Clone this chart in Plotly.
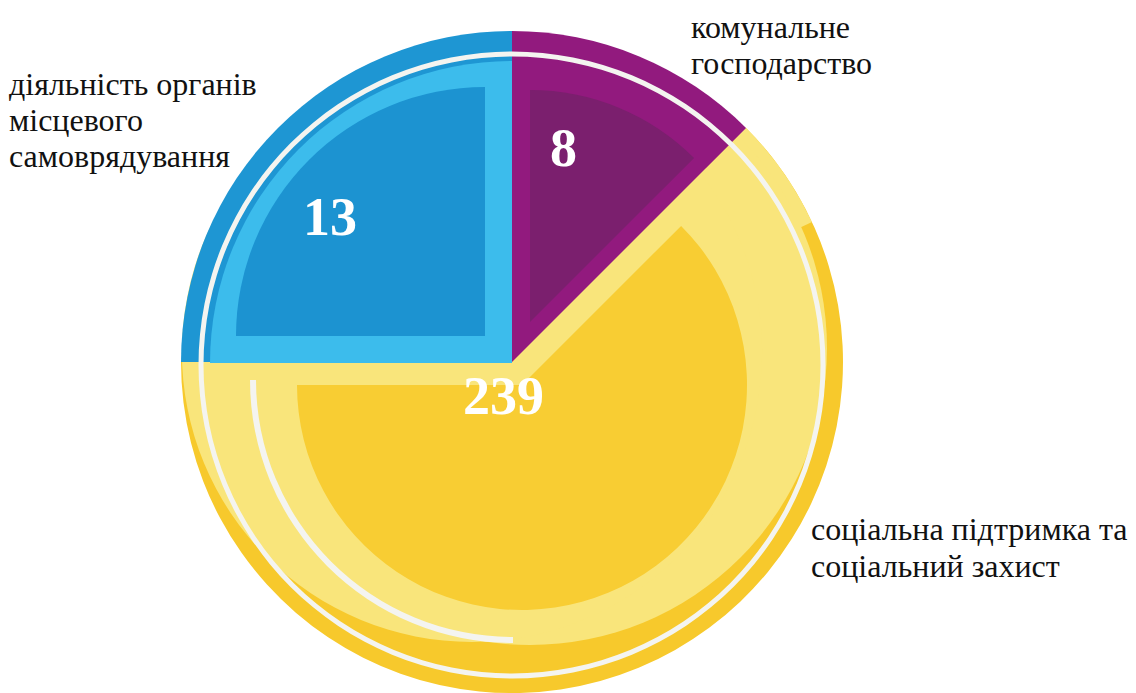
import plotly.graph_objects as go

# ---- data ----
categories = ["комунальне господарство",
              "соціальна підтримка та соціальний захист",
              "діяльність органів місцевого самоврядування"]
counts = [8, 239, 13]                 # numbers printed on the slices
sector_share = [12.5, 62.5, 25.0]     # angular share of each slice as drawn (%)
label_lines = [["комунальне", "господарство"],
               ["соціальна підтримка та", "соціальний захист"],
               ["діяльність органів", "місцевого", "самоврядування"]]

W, H = 1136, 693
OFF = 8  # page body margin
T = "rgba(0,0,0,0)"

OUTER = ["#921A7E", "#F7C92C", "#1E96D3"]
LIGHT_Y = "#F9E57B"
LIGHT_B = "#3CBCEC"
INNER = ["#7B1F6E", "#F8CD33", "#1C93D1"]
RING = "#F4F4F0"
SERIF = "Liberation Serif, serif"


def dom(cx, cy, r):
    cx -= OFF
    cy -= OFF
    return dict(x=[max(0, (cx - r) / W), min(1, (cx + r) / W)],
                y=[max(0, 1 - (cy + r) / H), min(1, 1 - (cy - r) / H)])


def pie(cx, cy, r, colors, values=None, hole=0):
    vals = values if values is not None else sector_share
    return go.Pie(values=vals, labels=[f"s{i}" for i in range(len(vals))],
                  domain=dom(cx, cy, r), hole=hole,
                  marker=dict(colors=colors, line=dict(width=0)),
                  sort=False, direction="clockwise", rotation=0,
                  textinfo="none", hoverinfo="skip", showlegend=False)


fig = go.Figure()
# main pie: dark yellow base of the yellow slice
fig.add_trace(pie(512, 362, 331, [T, OUTER[1], T]))
# light yellow areas of the yellow slice
fig.add_trace(pie(512, 362, 331, [T, LIGHT_Y, T], values=[45, 20, 295]))
fig.add_trace(pie(530, 348, 297, [LIGHT_Y], values=[1]))
fig.add_trace(pie(472, 352, 290, [LIGHT_Y], values=[1]))
# main pie: purple and blue outer slices
fig.add_trace(pie(512, 362, 331, [OUTER[0], T, OUTER[2]]))
# light blue layer
fig.add_trace(pie(512, 363, 302, [T, T, LIGHT_B]))
# inner wedges
fig.add_trace(pie(530, 322, 232, [INNER[0], T, T]))
fig.add_trace(pie(522, 385, 225, [T, INNER[1], T]))
fig.add_trace(pie(485, 336, 249, [T, T, INNER[2]]))
# white decorative rings
fig.add_trace(pie(512, 365, 313.5, [RING], values=[1], hole=308.5 / 313.5))
fig.add_trace(pie(513, 380, 263, [T, RING, T], values=[180, 90, 90], hole=257 / 263))


def ppos(px, py):
    return (px - OFF) / W, 1 - (py - OFF) / H


# ---- numbers on slices ----
num_pos = [(563, 148), (504, 396), (330, 217)]
for (px, py), c in zip(num_pos, counts):
    ax, ay = ppos(px, py)
    fig.add_annotation(x=ax, y=ay, xref="paper", yref="paper",
                       text=str(c), showarrow=False, xanchor="center", yanchor="middle",
                       font=dict(family=SERIF, size=54, color="white", weight="bold"))

# ---- category labels ----
label_pos = [(690, 27, 36), (810, 529, 37), (8, 84, 36)]
for (px, py0, step), lines in zip(label_pos, label_lines):
    for k, line in enumerate(lines):
        ax, ay = ppos(px, py0 + k * step)
        fig.add_annotation(x=ax, y=ay, xref="paper", yref="paper",
                           text=line, showarrow=False, xanchor="left", yanchor="middle",
                           borderpad=0,
                           font=dict(family=SERIF, size=32, color="#111111"))

fig.update_layout(width=W, height=H, margin=dict(l=0, r=0, t=0, b=0),
                  paper_bgcolor="white", plot_bgcolor="white", showlegend=False)

fig.write_html("out.html")
